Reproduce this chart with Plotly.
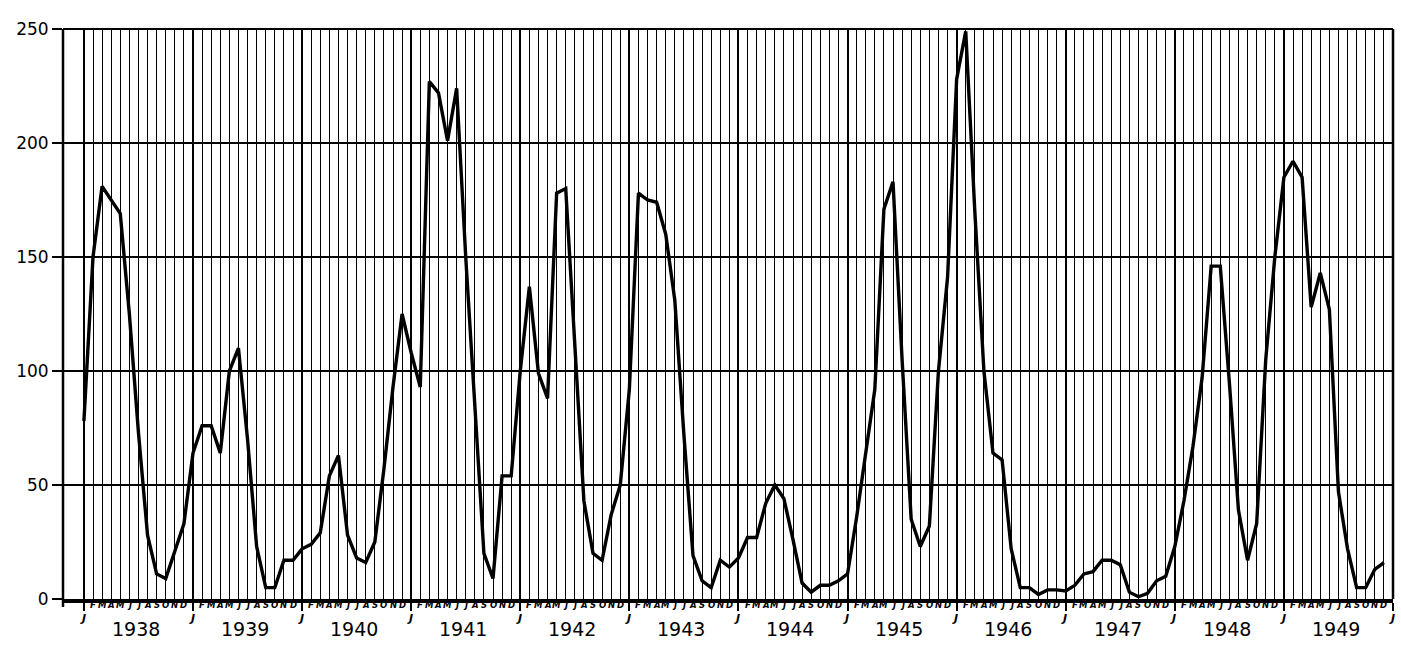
import plotly.graph_objects as go

# ---- data (monthly values, Jan 1938 .. Dec 1949) ----
YEARS = [1938, 1939, 1940, 1941, 1942, 1943, 1944, 1945, 1946, 1947, 1948, 1949]
MONTH_LETTERS = ["F", "M", "A", "M", "J", "J", "A", "S", "O", "N", "D"]
Y_TICKS = [0, 50, 100, 150, 200, 250]

v1938 = [78, 150, 181, 175, 169, 125, 73, 28, 11, 9, 21, 33]
v1939 = [64, 76, 76, 64, 100, 110, 70, 23, 5, 5, 17, 17]
v1940 = [22, 24, 29, 54, 63, 28, 18, 16, 25, 57, 93, 125]
v1941 = [108, 93, 227, 222, 201, 224, 150, 85, 20, 9, 54, 54]
v1942 = [100, 137, 99, 88, 178, 180, 112, 43, 20, 17, 37, 50]
v1943 = [92, 178, 175, 174, 160, 131, 72, 19, 8, 5, 17, 14]
v1944 = [18, 27, 27, 42, 50, 44, 26, 7, 3, 6, 6, 8]
v1945 = [11, 36, 64, 92, 171, 183, 105, 35, 23, 32, 100, 141]
v1946 = [228, 249, 170, 100, 64, 61, 22, 5, 5, 2, 4, 4]
v1947 = [3.5, 6, 11, 12, 17, 17, 15, 3, 1, 2.5, 8, 10]
v1948 = [23, 43, 67, 97, 146, 146, 95, 39, 17, 33, 105, 150]
v1949 = [185, 192, 185, 128, 143, 127, 47, 22, 5, 5, 13, 16]

values = (v1938 + v1939 + v1940 + v1941 + v1942 + v1943 +
          v1944 + v1945 + v1946 + v1947 + v1948 + v1949)
months = list(range(len(values)))  # 0 = Jan 1938

fig = go.Figure()
fig.add_trace(go.Scatter(
    x=months, y=values, mode="lines",
    line=dict(color="black", width=3.4),
    hoverinfo="skip", showlegend=False,
))

n_months = 12 * len(YEARS)
XMIN = -2.3

annotations = []
for yi, yr in enumerate(YEARS):
    base = 12 * yi
    for k, letter in enumerate(MONTH_LETTERS):
        annotations.append(dict(
            x=base + k + 1, y=0, xref="x", yref="paper",
            text="<b><i>%s</i></b>" % letter, showarrow=False,
            xanchor="center", yanchor="middle", yshift=-6,
            font=dict(family="DejaVu Sans", size=8.5, color="black"),
        ))
    annotations.append(dict(
        x=base + 5.7, y=0, xref="x", yref="paper", text=str(yr),
        showarrow=False, xanchor="center", yanchor="middle", yshift=-30,
        font=dict(family="DejaVu Sans", size=19, color="black"),
    ))
for j in range(len(YEARS) + 1):
    annotations.append(dict(
        x=12 * j - 0.15, y=0, xref="x", yref="paper",
        text="<b><i>J</i></b>", showarrow=False,
        xanchor="center", yanchor="middle", yshift=-19,
        font=dict(family="DejaVu Sans", size=11, color="black"),
    ))

shapes = [
    dict(type="line", xref="paper", yref="paper", x0=0, x1=1, y0=1, y1=1,
         line=dict(color="black", width=2)),
    dict(type="line", xref="paper", yref="paper", x0=1, x1=1, y0=0, y1=1,
         line=dict(color="black", width=2.5)),
    dict(type="line", xref="paper", yref="paper", x0=0, x1=0, y0=0, y1=1,
         line=dict(color="black", width=2.5)),
    dict(type="line", xref="paper", yref="paper", x0=0, x1=0, y0=0, y1=-8,
         ysizemode="pixel", yanchor=0, line=dict(color="black", width=2.5)),
]

fig.update_layout(
    width=1401, height=651,
    margin=dict(l=63, r=8, t=29, b=52),
    paper_bgcolor="white", plot_bgcolor="white",
    showlegend=False,
    annotations=annotations,
    shapes=shapes,
    xaxis=dict(
        range=[XMIN, n_months], showticklabels=False,
        tickmode="linear", tick0=0, dtick=12,
        showgrid=True, gridcolor="black", gridwidth=2.2,
        ticks="outside", ticklen=8, tickwidth=2, tickcolor="black",
        zeroline=False,
        showline=True, linecolor="black", linewidth=3.5,
        minor=dict(tickmode="array", tickvals=months + [n_months],
                   showgrid=True, gridcolor="black", gridwidth=1.4, ticks=""),
    ),
    yaxis=dict(
        range=[0, 250], tickmode="array", tickvals=Y_TICKS,
        ticktext=[str(t) for t in Y_TICKS],
        showgrid=True, gridcolor="black", gridwidth=2,
        ticks="outside", ticklen=10, tickwidth=2, tickcolor="black",
        zeroline=False, showline=False,
        tickfont=dict(family="DejaVu Sans", size=17, color="black"),
    ),
)

fig.write_html("out.html", config={"displayModeBar": False},
               post_script="document.body.style.margin='0px';")
